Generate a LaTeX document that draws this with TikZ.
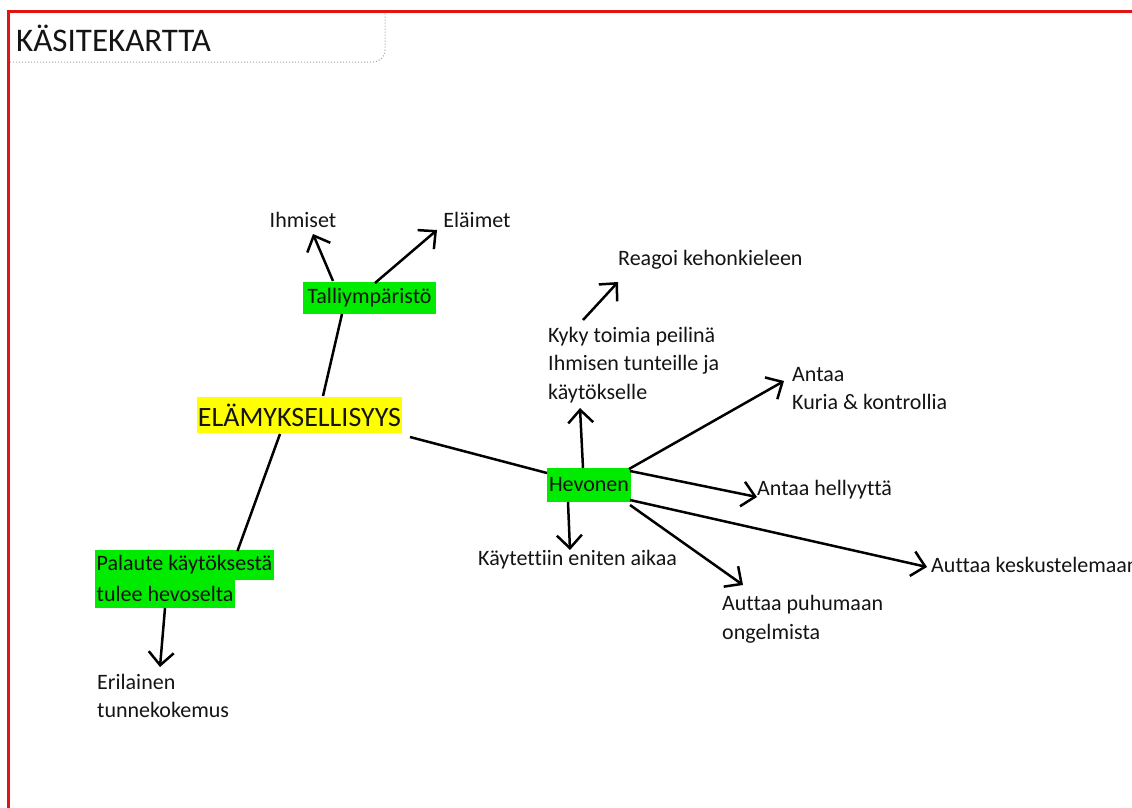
\documentclass[tikz,border=0pt]{standalone}
\usepackage{fontspec}
\setmainfont{Carlito}[Ligatures=NoCommon]
\usetikzlibrary{arrows.meta,calc}
\definecolor{hlgreen}{RGB}{0,235,0}
\definecolor{hlyellow}{RGB}{255,255,0}
\definecolor{framered}{RGB}{225,20,20}
\definecolor{ink}{RGB}{20,20,20}
\begin{document}
\begin{tikzpicture}[x=1pt,y=-1pt,
  lbl/.style={font=\fontsize{22}{28.5}\selectfont, text=ink, inner sep=0pt, align=left},
  gbox/.style={lbl, fill=hlgreen, align=center},
  arr/.style={line width=2.5pt, draw=black, -{Straight Barb[length=13pt,width=25pt,line width=2.5pt]}},
  lnk/.style={line width=2.5pt, draw=black},
  frame/.style={draw=framered, line width=3pt},
  tabline/.style={draw=gray!70, dotted, line width=1pt, rounded corners=12pt}]
\useasboundingbox (0,0) rectangle (1132,807);
\clip (0,0) rectangle (1132,807);
\fill[white] (0,0) rectangle (1132,807);
% frame
\draw[frame] (1140,11) -- (8,11) -- (8,815);
\draw[tabline] (10,62) -- (385,62) -- (385,13);
% nodes
\node[lbl, font=\fontsize{33}{38}\selectfont, anchor=west] (title) at (16,38) {KÄSITEKARTTA};
\node[lbl] (ihm) at (303,220) {Ihmiset};
\node[lbl] (ela) at (477,220) {Eläimet};
\node[gbox, minimum width=133, minimum height=32] (tal) at (369.5,298) {Talliympäristö};
\node[lbl, fill=hlyellow, font=\fontsize{28}{34}\selectfont, minimum width=205, minimum height=36] (elam) at (299.5,415) {ELÄMYKSELLISYYS};
\node[gbox, minimum width=84, minimum height=34] (hev) at (589,485) {Hevonen};
\node[lbl, anchor=west] (reag) at (618,260) {Reagoi kehonkieleen};
\node[lbl, anchor=west] (kyky) at (548,365) {Kyky toimia peilinä\\Ihmisen tunteille ja\\käytökselle};
\node[lbl, anchor=west] (antaa) at (792,388.5) {Antaa\\Kuria \& kontrollia};
\node[lbl, anchor=west] (hell) at (757,490) {Antaa hellyyttä};
\node[lbl, anchor=west] (kesk) at (931,565) {Auttaa keskustelemaan};
\node[lbl, anchor=west] (puh) at (722,619) {Auttaa puhumaan\\ongelmista};
\node[lbl, anchor=west] (kayt) at (478,560) {Käytettiin eniten aikaa};
\node[gbox, anchor=west, inner xsep=1.5pt, minimum height=30] (pal1) at (95,565) {Palaute käytöksestä};
\node[gbox, anchor=west, inner xsep=1.5pt, minimum height=28] (pal2) at (95,594) {tulee hevoselta};
\node[lbl, anchor=west] (eri) at (97,696) {Erilainen\\tunnekokemus};
% connectors
\draw[arr] ($(tal)+(-36.5,-17)$) -- ($(ihm)+(10,14)$);
\draw[arr] ($(tal)+(5.5,-15)$) -- ($(ela)+(-40,10)$);
\draw[lnk] ($(tal)+(-27.5,16)$) -- ($(elam)+(23.5,-19)$);
\draw[lnk] ($(elam)+(-19.5,19)$) -- ($(pal1)+(53,-14)$);
\draw[lnk] ($(elam)+(110.5,22)$) -- ($(hev)+(-42,-12)$);
\draw[arr] ($(hev)+(-6,-17)$) -- ($(kyky.west)+(32,43)$);
\draw[arr] ($(kyky.west)+(35,-45)$) -- ($(reag.west)+(0,22)$);
\draw[arr] ($(hev)+(40,-16)$) -- ($(antaa.west)+(-8,-7.5)$);
\draw[arr] ($(hev)+(41,-14)$) -- ($(hell.west)+(0,7)$);
\draw[arr] ($(hev)+(41,15)$) -- ($(kesk.west)+(-4,2)$);
\draw[arr] ($(hev)+(41,20)$) -- ($(puh.west)+(21,-34)$);
\draw[arr] ($(hev)+(-21,17)$) -- ($(kayt.west)+(92,-10)$);
\draw[arr] ($(pal2.west)+(70,14)$) -- ($(eri.west)+(63,-29)$);
\end{tikzpicture}
\end{document}
